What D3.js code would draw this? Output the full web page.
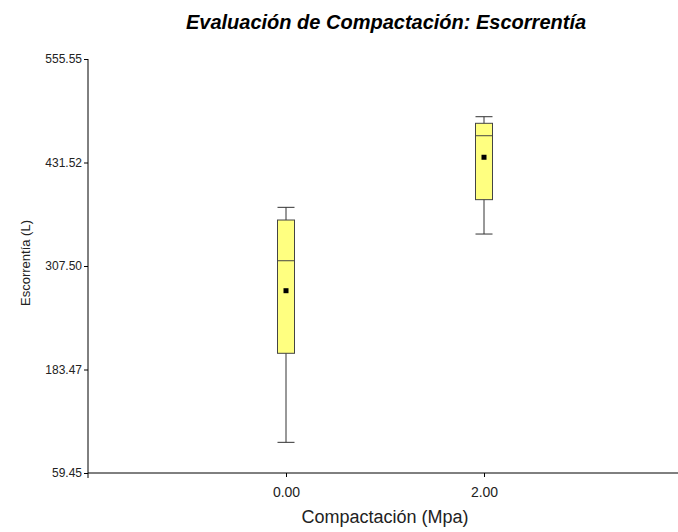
<!DOCTYPE html>
<html>
<head>
<meta charset="utf-8">
<script src="https://cdn.jsdelivr.net/npm/d3@7"></script>
<style>
  body { margin: 0; background: #fff; }
  text { font-family: "Liberation Sans", Arial, sans-serif; }
</style>
</head>
<body>
<script>
// data
const groups = [0, 2];
const whiskerLow = [96.2, 345.8];
const q1 = [202.9, 387.0];
const median = [313.8, 463.6];
const q3 = [362.6, 478.5];
const whiskerHigh = [377.8, 486.4];
const means = [277.9, 437.8];
const yTicks = [59.45, 183.47, 307.50, 431.52, 555.55];
const xTicks = [0, 2];

const width = 678;
const height = 532;

const x = d3.scaleLinear().domain([-2, 4]).range([88, 682]);
const y = d3.scaleLinear().domain([59.45, 555.55]).range([473, 59]);

const boxW = 17;

const svg = d3.select('body').append('svg')
  .attr('width', width)
  .attr('height', height);

// title
svg.append('text')
  .attr('x', 386)
  .attr('y', 29)
  .attr('text-anchor', 'middle')
  .style('font-size', '20px')
  .style('font-weight', 'bold')
  .style('font-style', 'italic')
  .attr('fill', '#000')
  .text('Evaluación de Compactación: Escorrentía');

// y axis
const yAxis = svg.append('g')
  .attr('transform', 'translate(88,0)')
  .call(d3.axisLeft(y).tickValues(yTicks).tickFormat(d3.format('.2f')).tickSize(4).tickPadding(2));
yAxis.select('.domain').remove();
yAxis.append('line')
  .attr('x1', 0).attr('x2', 0)
  .attr('y1', y(555.55)).attr('y2', y(59.45) + 5)
  .attr('stroke', '#000');
yAxis.selectAll('text')
  .style('font-size', '12px')
  .attr('fill', '#222');

// x axis
const xAxis = svg.append('g')
  .attr('transform', `translate(0,${y(59.45)})`)
  .call(d3.axisBottom(x).tickValues(xTicks).tickFormat(d3.format('.2f')).tickSize(4).tickPadding(10));
xAxis.select('.domain')
  .attr('d', `M${x(-2)},0H${x(4)}`);
xAxis.selectAll('text')
  .style('font-size', '14px')
  .attr('fill', '#222');

// axis titles
svg.append('text')
  .attr('transform', 'translate(30,263) rotate(-90)')
  .attr('text-anchor', 'middle')
  .style('font-size', '13px')
  .attr('fill', '#222')
  .text('Escorrentía (L)');

svg.append('text')
  .attr('x', 385)
  .attr('y', 523)
  .attr('text-anchor', 'middle')
  .style('font-size', '18px')
  .attr('fill', '#222')
  .text('Compactación (Mpa)');

// boxes
const box = svg.selectAll('.box')
  .data(groups)
  .enter().append('g')
  .attr('class', 'box');

box.append('line')
  .attr('x1', d => x(d)).attr('x2', d => x(d))
  .attr('y1', (d, i) => y(whiskerLow[i]))
  .attr('y2', (d, i) => y(whiskerHigh[i]))
  .attr('stroke', '#333');

box.append('line')
  .attr('x1', d => x(d) - boxW / 2).attr('x2', d => x(d) + boxW / 2)
  .attr('y1', (d, i) => y(whiskerHigh[i])).attr('y2', (d, i) => y(whiskerHigh[i]))
  .attr('stroke', '#333');

box.append('line')
  .attr('x1', d => x(d) - boxW / 2).attr('x2', d => x(d) + boxW / 2)
  .attr('y1', (d, i) => y(whiskerLow[i])).attr('y2', (d, i) => y(whiskerLow[i]))
  .attr('stroke', '#333');

box.append('rect')
  .attr('x', d => x(d) - boxW / 2)
  .attr('width', boxW)
  .attr('y', (d, i) => y(q3[i]))
  .attr('height', (d, i) => y(q1[i]) - y(q3[i]))
  .attr('fill', '#ffff80')
  .attr('stroke', '#444');

box.append('line')
  .attr('x1', d => x(d) - boxW / 2).attr('x2', d => x(d) + boxW / 2)
  .attr('y1', (d, i) => y(median[i])).attr('y2', (d, i) => y(median[i]))
  .attr('stroke', '#444');

box.append('rect')
  .attr('x', d => x(d) - 2.5)
  .attr('y', (d, i) => y(means[i]) - 2.5)
  .attr('width', 5)
  .attr('height', 5)
  .attr('fill', '#000');
</script>
</body>
</html>
